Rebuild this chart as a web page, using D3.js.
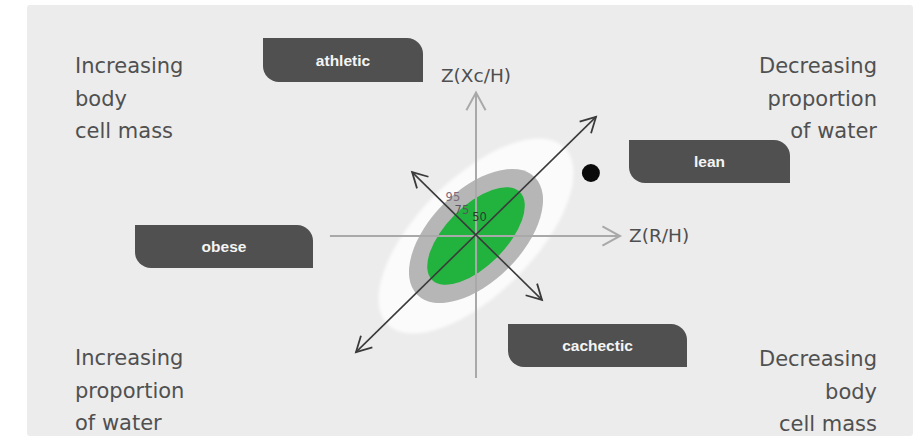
<!DOCTYPE html>
<html>
<head>
<meta charset="utf-8">
<script src="https://cdn.jsdelivr.net/npm/d3@7"></script>
<style>
  body { margin: 0; background: #fff; }
  svg { display: block; }
</style>
</head>
<body>
<div id="chart"></div>
<script>
// z-score units, centre of the reference population at 0,0
const levels = [95, 75, 50];
const ellipseMajor = [4.17, 2.77, 2.07];
const ellipseMinor = [1.93, 1.52, 1.0];
const ellipseColors = ["#fbfbfb", "#b6b6b6", "#22b33f"];
const levelLabelPos = [[-0.77, 1.3], [-0.47, 0.88], [0.12, 0.62]];
const subject = [3.83, 2.1];

// the two interpretation vectors (tip to tip)
const vectors = [
  [[-4.0, -3.87], [4.0, 3.97]],
  [[2.2, -2.13], [-2.13, 2.13]]
];

const cornerTexts = [
  ["Increasing", "body", "cell mass"],
  ["Decreasing", "proportion", "of water"],
  ["Increasing", "proportion", "of water"],
  ["Decreasing", "body", "cell mass"]
];
const typeLabels = ["athletic", "lean", "obese", "cachectic"];
const axisLabels = ["Z(R/H)", "Z(Xc/H)"];

const W = 920, H = 438;

const svg = d3.select("#chart")
  .append("svg")
  .attr("width", W)
  .attr("height", H);

const defs = svg.append("defs");
defs.append("filter")
  .attr("id", "soft")
  .append("feGaussianBlur")
  .attr("stdDeviation", 1.8);

// grey panel
svg.append("rect")
  .attr("x", 27).attr("y", 5)
  .attr("width", 886).attr("height", 431)
  .attr("rx", 3)
  .attr("fill", "#ececec");

const x = d3.scaleLinear().domain([-5, 5]).range([326, 626]);
const y = d3.scaleLinear().domain([-5, 5]).range([386, 86]);

const cx = x(0), cy = y(0);

// tolerance ellipses
svg.append("g")
  .selectAll("ellipse")
  .data(levels)
  .join("ellipse")
  .attr("cx", cx)
  .attr("cy", cy)
  .attr("rx", (d, i) => x(ellipseMajor[i]) - x(0))
  .attr("ry", (d, i) => y(0) - y(ellipseMinor[i]))
  .attr("transform", `rotate(-45, ${cx}, ${cy})`)
  .attr("fill", (d, i) => ellipseColors[i])
  .attr("filter", (d, i) => i == 0 ? "url(#soft)" : null);

function arrowHead(g, x0, y0, x1, y1, len, color, w) {
  // open chevron at (x1,y1) pointing away from (x0,y0)
  const ang = Math.atan2(y1 - y0, x1 - x0);
  const spread = 0.5;
  const p = d3.path();
  p.moveTo(x1 - len * Math.cos(ang - spread), y1 - len * Math.sin(ang - spread));
  p.lineTo(x1, y1);
  p.lineTo(x1 - len * Math.cos(ang + spread), y1 - len * Math.sin(ang + spread));
  g.append("path")
    .attr("d", p.toString())
    .attr("fill", "none")
    .attr("stroke", color)
    .attr("stroke-width", w)
    .attr("stroke-linejoin", "miter");
}

// axes
const axes = svg.append("g");
axes.append("line")
  .attr("x1", x(-4.87)).attr("y1", cy)
  .attr("x2", x(4.8)).attr("y2", cy)
  .attr("stroke", "#a9a9a9").attr("stroke-width", 2);
arrowHead(axes, x(-4.87), cy, x(4.8), cy, 20, "#a9a9a9", 2);
axes.append("line")
  .attr("x1", cx).attr("y1", y(-4.73))
  .attr("x2", cx).attr("y2", y(4.78))
  .attr("stroke", "#a9a9a9").attr("stroke-width", 2);
arrowHead(axes, cx, y(-4.73), cx, y(4.78), 20, "#a9a9a9", 2);

axes.append("text")
  .attr("x", x(4.8) + 9).attr("y", cy + 6)
  .attr("font-family", "DejaVu Sans")
  .attr("font-size", 18.5)
  .attr("fill", "#4f4f4f")
  .text(axisLabels[0]);
axes.append("text")
  .attr("x", cx).attr("y", y(4.78) - 11)
  .attr("text-anchor", "middle")
  .attr("font-family", "DejaVu Sans")
  .attr("font-size", 18.5)
  .attr("fill", "#4f4f4f")
  .text(axisLabels[1]);

// vectors, double headed
const vec = svg.append("g");
vectors.forEach(v => {
  const [a, b] = v;
  vec.append("line")
    .attr("x1", x(a[0])).attr("y1", y(a[1]))
    .attr("x2", x(b[0])).attr("y2", y(b[1]))
    .attr("stroke", "#3a3a3a").attr("stroke-width", 1.6);
  arrowHead(vec, x(a[0]), y(a[1]), x(b[0]), y(b[1]), 17, "#3a3a3a", 1.8);
  arrowHead(vec, x(b[0]), y(b[1]), x(a[0]), y(a[1]), 17, "#3a3a3a", 1.8);
});

// percentile labels
const labelColors = ["#7c6a7b", "#5c5460", "#2c3b2e"];
svg.append("g")
  .selectAll("text")
  .data(levels)
  .join("text")
  .attr("x", (d, i) => x(levelLabelPos[i][0]))
  .attr("y", (d, i) => y(levelLabelPos[i][1]))
  .attr("text-anchor", "middle")
  .attr("dominant-baseline", "central")
  .attr("font-family", "DejaVu Sans")
  .attr("font-size", 11.5)
  .attr("fill", (d, i) => labelColors[i])
  .text(d => d);

// subject
svg.append("circle")
  .attr("cx", x(subject[0]))
  .attr("cy", y(subject[1]))
  .attr("r", 9)
  .attr("fill", "#0a0a0a");

// quadrant notes
const cornerLayout = [
  {x: 75, y: 73, anchor: "start"},
  {x: 877, y: 73, anchor: "end"},
  {x: 75, y: 365, anchor: "start"},
  {x: 877, y: 366, anchor: "end"}
];
cornerTexts.forEach((lines, i) => {
  const c = cornerLayout[i];
  const t = svg.append("text")
    .attr("font-family", "DejaVu Sans")
    .attr("font-size", 21)
    .attr("fill", "#505050")
    .attr("text-anchor", c.anchor);
  lines.forEach((s, j) => {
    t.append("tspan")
      .attr("x", c.x)
      .attr("y", c.y + j * 32.5)
      .text(s);
  });
});

// body type tags
const tagLayout = [
  {x: 263, y: 38, w: 160, h: 44},
  {x: 629, y: 140, w: 161, h: 43},
  {x: 135, y: 225, w: 178, h: 43},
  {x: 508, y: 324, w: 179, h: 43}
];
function tagPath(b, r) {
  const p = d3.path();
  p.moveTo(b.x, b.y);
  p.lineTo(b.x + b.w - r, b.y);
  p.arcTo(b.x + b.w, b.y, b.x + b.w, b.y + r, r);
  p.lineTo(b.x + b.w, b.y + b.h);
  p.lineTo(b.x + r, b.y + b.h);
  p.arcTo(b.x, b.y + b.h, b.x, b.y + b.h - r, r);
  p.closePath();
  return p.toString();
}
const tags = svg.append("g")
  .selectAll("g")
  .data(typeLabels)
  .join("g");
tags.append("path")
  .attr("d", (d, i) => tagPath(tagLayout[i], 16))
  .attr("fill", "#505050");
tags.append("text")
  .attr("x", (d, i) => tagLayout[i].x + tagLayout[i].w / 2)
  .attr("y", (d, i) => tagLayout[i].y + tagLayout[i].h / 2)
  .attr("text-anchor", "middle")
  .attr("dominant-baseline", "central")
  .attr("font-family", "Liberation Sans")
  .attr("font-weight", "bold")
  .attr("font-size", 15.5)
  .attr("fill", "#f4f4f4")
  .text(d => d);
</script>
</body>
</html>
